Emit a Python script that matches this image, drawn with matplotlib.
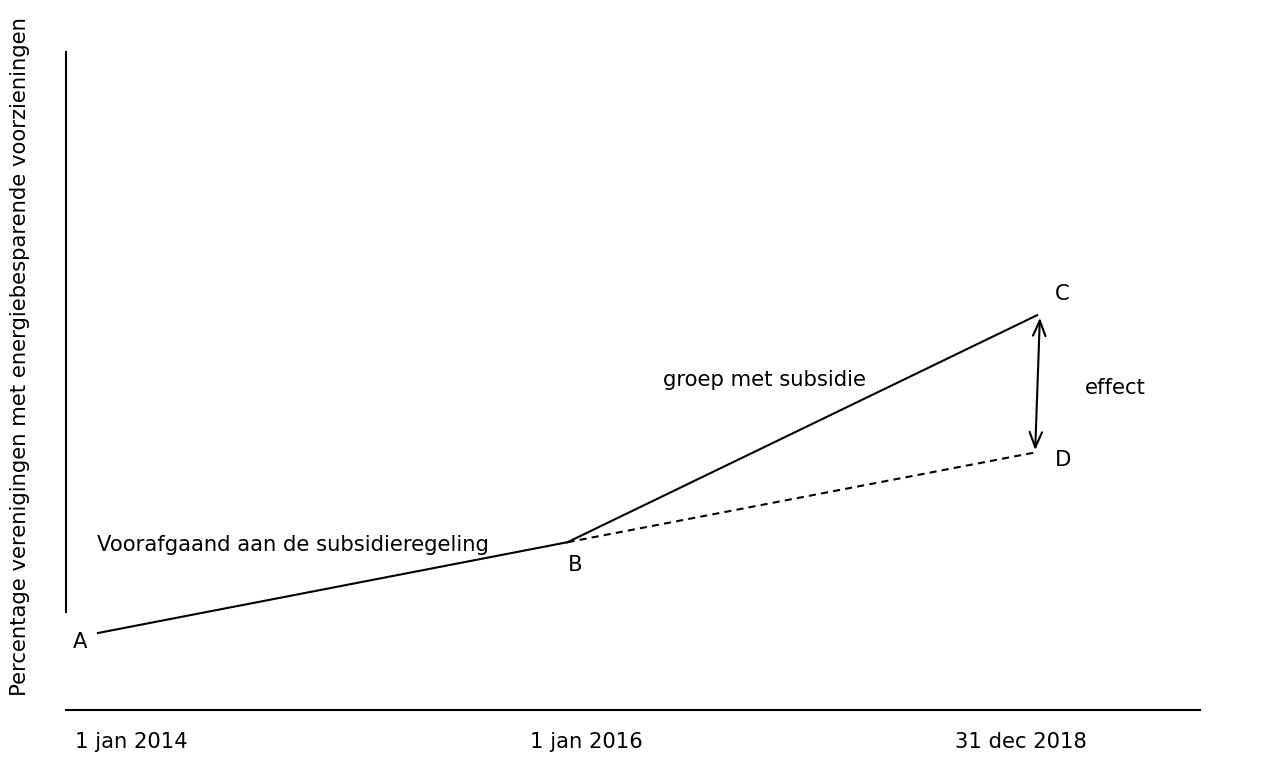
import matplotlib
matplotlib.use("Agg")
import matplotlib.pyplot as plt

# schematic: moments in time (0 = 1 jan 2014, 1 = 1 jan 2016, 2 = 31 dec 2018)
moments = [0, 1, 2]
moment_labels = ["1 jan 2014", "1 jan 2016", "31 dec 2018"]

# percentage (schematic) per point
point_names = ["A", "B", "C", "D"]
pct_a = 11.7
pct_b = 25.5
pct_c = 60.0
pct_d = 39.2

plt.rcParams["font.family"] = ["DejaVu Sans"]
fig = plt.figure(figsize=(12.62, 7.78), dpi=100)
ax = fig.add_axes([66 / 1262, 1 - 710 / 778, (1200 - 66) / 1262, (710 - 52) / 778])
ax.set_xlim(-0.068, 2.347)
ax.set_ylim(0, 100)

for s in ["top", "right"]:
    ax.spines[s].set_visible(False)
ax.spines["left"].set_bounds(14.9, 100)
ax.spines["left"].set_linewidth(1.5)
ax.spines["bottom"].set_linewidth(1.5)
ax.set_xticks([])
ax.set_yticks([])

lw = 1.5
# before the subsidy
ax.plot([moments[0], moments[1]], [pct_a, pct_b], color="black", lw=lw)
# group with subsidy
ax.plot([moments[1], moments[2]], [pct_b, pct_c], color="black", lw=lw)
# without subsidy (dashed)
ax.plot([moments[1], moments[2]], [pct_b, pct_d], color="black", lw=lw,
        linestyle=(0, (3.4, 2.5)))

# effect arrow
ax.annotate("", xy=(moments[2] + 0.006, pct_c - 0.4), xytext=(moments[2] - 0.004, pct_d + 0.3),
            arrowprops=dict(arrowstyle="<->,head_length=1.1,head_width=0.45",
                            color="black", lw=1.5, shrinkA=0, shrinkB=0))

fs = 15.2
pts = [(moments[0], pct_a), (moments[1], pct_b), (moments[2], pct_c), (moments[2], pct_d)]
offsets = [(-13, -6.5), (5.8, -16.6), (18, 15), (18.7, -5.8)]
for name, p, off in zip(point_names, pts, offsets):
    ax.annotate(name, xy=p, xytext=off, textcoords="offset points",
                ha="center", va="center", fontsize=fs)

ax.text(-0.002, 25.1, "Voorafgaand aan de subsidieregeling", ha="left", va="center", fontsize=fs)
ax.text(1.203, 50.2, "groep met subsidie", ha="left", va="center", fontsize=fs)
ax.text(2.102, 48.9, "effect", ha="left", va="center", fontsize=fs)

label_x = [-0.049, 0.920, 1.825]
for lx, lab in zip(label_x, moment_labels):
    ax.text(lx, -4.9, lab, ha="left", va="center", fontsize=fs, clip_on=False)

fig.text(20 / 1262, 1 - 357 / 778, "Percentage verenigingen met energiebesparende voorzieningen",
         rotation=90, ha="center", va="center", fontsize=fs)

fig.savefig("out.png", dpi=100)
